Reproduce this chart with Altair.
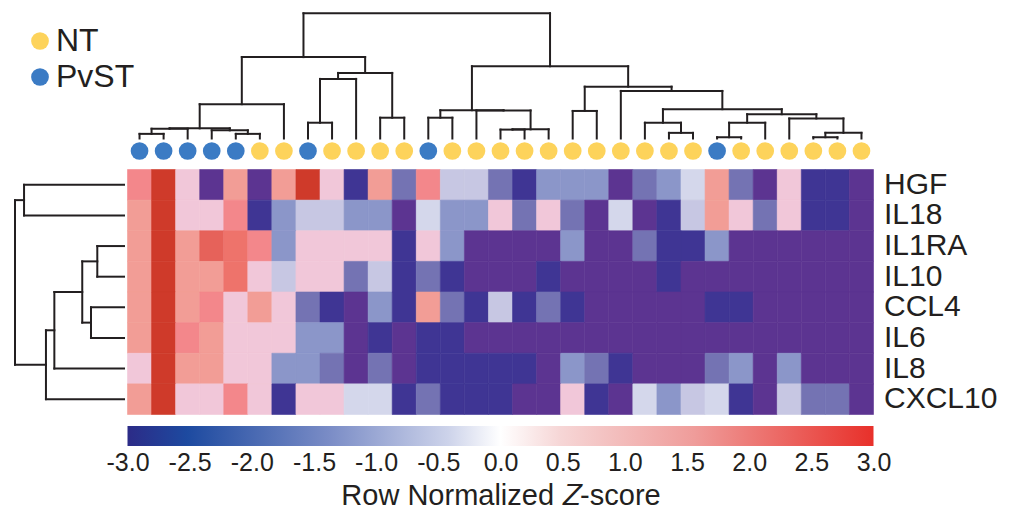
import altair as alt
import pandas as pd

FONT = "Liberation Sans"
INK = "#231f20"

# ---------------- data ----------------
genes = ["HGF", "IL18", "IL1RA", "IL10", "CCL4", "IL6", "IL8", "CXCL10"]
groups = ["NT", "PvST"]
group_colors = ["#fdd35b", "#3b7bc4"]
sample_group = (["PvST"] * 5 + ["NT", "NT", "PvST", "NT", "NT", "NT", "NT", "PvST"]
                + ["NT"] * 11 + ["PvST"] + ["NT"] * 6)

z_HGF = [1.6, 3.0, 0.4, -3.3, 1.2, -3.3, 1.2, 3.0, 0.4, -2.7, 1.2, -2.0, 1.6, -0.9, -0.9,
         -2.0, -2.7, -1.5, -1.5, -1.5, -3.3, -2.0, -1.5, -0.6, 1.2, -2.0, -3.3, 0.4, -2.7, -2.7, -3.3]
z_IL18 = [1.2, 3.0, 0.4, 0.4, 1.6, -2.7, -1.5, -0.9, -0.9, -1.5, -1.5, -3.3, -0.6, -1.5, -1.5,
          0.4, -2.0, 0.4, -2.0, -3.3, -0.6, -3.3, -2.7, -0.9, 1.2, 0.4, -2.0, 0.4, -2.7, -2.7, -3.3]
z_IL1RA = [1.2, 3.0, 1.2, 2.3, 2.0, 1.6, -1.5, 0.4, 0.4, 0.4, 0.4, -2.7, 0.4, -1.5, -3.3,
           -3.3, -3.3, -3.3, -1.5, -3.3, -3.3, -2.0, -2.7, -2.7, -1.5, -3.3, -3.3, -3.3, -3.3, -3.3, -3.3]
z_IL10 = [1.2, 3.0, 1.2, 1.2, 2.0, 0.4, -0.9, 0.4, 0.4, -2.0, -0.9, -2.7, -2.0, -2.7, -3.3,
          -3.3, -3.3, -2.7, -3.3, -3.3, -3.3, -3.3, -2.7, -3.3, -3.3, -3.3, -3.3, -3.3, -3.3, -3.3, -3.3]
z_CCL4 = [1.2, 3.0, 1.2, 1.6, 0.4, 1.2, 0.4, -2.0, -2.7, -3.3, -1.5, -2.7, 1.2, -2.0, -2.7,
          -0.9, -2.7, -2.0, -2.7, -3.3, -3.3, -3.3, -3.3, -3.3, -2.7, -2.7, -3.3, -3.3, -3.3, -3.3, -3.3]
z_IL6 = [1.2, 3.0, 1.6, 1.2, 0.4, 0.4, 0.4, -1.5, -1.5, -3.3, -2.7, -3.3, -2.7, -2.7, -3.3,
         -3.3, -3.3, -3.3, -3.3, -3.3, -3.3, -3.3, -3.3, -3.3, -3.3, -3.3, -3.3, -3.3, -3.3, -3.3, -3.3]
z_IL8 = [0.4, 3.0, 1.2, 1.2, 0.4, 0.4, -1.5, -1.5, -2.0, -3.3, -2.0, -3.3, -2.7, -2.7, -2.7,
         -2.7, -2.7, -3.3, -1.5, -2.0, -2.7, -3.3, -3.3, -3.3, -2.0, -1.5, -3.3, -1.5, -3.3, -3.3, -3.3]
z_CXCL10 = [1.2, 3.0, 0.4, 0.4, 1.6, 0.4, -2.7, 0.4, 0.4, -0.6, -0.6, -2.7, -2.0, -2.7, -2.7,
            -2.7, -3.3, -3.3, 0.4, -2.7, -3.3, -0.6, -1.5, -0.9, -0.6, -2.7, -3.3, -0.9, -2.0, -2.0, -3.3]
z_rows = [z_HGF, z_IL18, z_IL1RA, z_IL10, z_CCL4, z_IL6, z_IL8, z_CXCL10]

# heatmap colour levels (value -> colour as printed)
level_values = [-3.3, -2.7, -2.0, -1.5, -0.9, -0.6, 0.4, 1.2, 1.6, 2.0, 2.3, 3.0]
level_colors = ["#5c3491", "#3f3594", "#7473b3", "#8b96c9", "#c7c7e3", "#d4d7eb",
                "#f1c7d9", "#f29d96", "#f3878b", "#ee736b", "#e6625a", "#cf3a2a"]

colorbar_ticks = [-3.0, -2.5, -2.0, -1.5, -1.0, -0.5, 0.0, 0.5, 1.0, 1.5, 2.0, 2.5, 3.0]

# column dendrogram merges (leaf cN = column N)
top_a = ["c1", "c5", "c4", "n1", "n4", "n5", "c8", "n7", "c11", "n8", "n6", "c13", "c16", "n13", "c15",
         "n12", "c19", "c23", "c22", "c25", "n20", "c29", "n22", "c28", "n21", "n19", "c21", "n17", "n16", "n11"]
top_b = ["c2", "c6", "n2", "c3", "n3", "c7", "c9", "c10", "c12", "n9", "n10", "c14", "c17", "c18", "n14",
         "n15", "c20", "c24", "n18", "c26", "c27", "c30", "c31", "n23", "n24", "n25", "n26", "n27", "n28", "n29"]
top_h = [0.37, 0.37, 0.65, 0.78, 0.81, 2.74, 1.26, 4.76, 1.66, 5.24, 6.5, 1.66, 0.71, 0.73, 2.24,
         2.26, 2.2, 0.45, 1.26, 0.1, 1.26, 0.1, 0.45, 1.6, 1.94, 2.34, 3.8, 4.14, 5.77, 10.0]

# gene dendrogram merges (leaf cN = gene row N)
row_a = ["c1", "c3", "c5", "n2", "n4", "n5", "n1"]
row_b = ["c2", "c4", "c6", "n3", "c7", "c8", "n6"]
row_h = [9.17, 2.45, 3.03, 3.83, 6.39, 7.16, 10.0]


def dendro_segments(left, right, height, n_leaves):
    pos = {f"c{i}": float(i) for i in range(1, n_leaves + 1)}
    hgt = {f"c{i}": 0.0 for i in range(1, n_leaves + 1)}
    rows = []
    for k, (a, b, h) in enumerate(zip(left, right, height), start=1):
        rows.append({"p": pos[a], "p2": pos[b], "h": h, "h2": h})
        rows.append({"p": pos[a], "p2": pos[a], "h": hgt[a], "h2": h})
        rows.append({"p": pos[b], "p2": pos[b], "h": hgt[b], "h2": h})
        pos[f"n{k}"] = (pos[a] + pos[b]) / 2
        hgt[f"n{k}"] = h
    return pd.DataFrame(rows)


n_cols = len(sample_group)
samples_df = pd.DataFrame({"col": list(range(1, n_cols + 1)), "group": sample_group})
heat_df = pd.DataFrame([
    {"gene": g, "col": c + 1, "z": v}
    for g, row in zip(genes, z_rows) for c, v in enumerate(row)
])
top_df = dendro_segments(top_a, top_b, top_h, n_cols)
row_df = dendro_segments(row_a, row_b, row_h, len(genes))
cbar_df = pd.DataFrame({"lo": [min(colorbar_ticks)], "hi": [max(colorbar_ticks)]})

# ---------------- layout (pixel ranges inside the plot area) ----------------
W, H = 865.5, 438
HX = [119.5, 865.5]        # heatmap / column span
HY = [161.5, 406.5]        # heatmap / row span
TOPY = [130.5, 5.3]        # column dendrogram: leaves -> root
DOTY = [130.5, 155.5]      # sample dot strip
ROWX = [116, 7]            # row dendrogram: leaves -> root
CBY = [418, 438]           # colour bar strip

col_scale = alt.Scale(domain=[0.5, n_cols + 0.5], range=HX, nice=False, zero=False)

top_dendro = alt.Chart(top_df).mark_rule(color=INK, strokeWidth=2, strokeCap="square").encode(
    x=alt.X("p:Q", scale=col_scale, axis=None),
    x2="p2:Q",
    y=alt.Y("h:Q", scale=alt.Scale(domain=[0, 10], range=TOPY, nice=False, zero=False), axis=None),
    y2="h2:Q",
)

dots = alt.Chart(samples_df).transform_calculate(track="'samples'").mark_circle(size=314, opacity=1).encode(
    x=alt.X("col:Q", scale=col_scale, axis=None),
    y=alt.Y("track:N", scale=alt.Scale(domain=["samples"], range=DOTY), axis=None),
    color=alt.Color(
        "group:N",
        scale=alt.Scale(domain=groups, range=group_colors),
        legend=alt.Legend(
            orient="none", legendX=10, legendY=17, title=None,
            labelFontSize=32, labelFont=FONT, labelColor=INK, labelOffset=0,
            symbolSize=314, symbolType="circle", symbolStrokeWidth=0, symbolOffset=6,
            rowPadding=4, padding=0,
        ),
    ),
)

row_dendro = alt.Chart(row_df).mark_rule(color=INK, strokeWidth=2, strokeCap="square").encode(
    y=alt.Y("p:Q", scale=alt.Scale(domain=[0.5, len(genes) + 0.5], range=HY, nice=False, zero=False),
            axis=None),
    y2="p2:Q",
    x=alt.X("h:Q", scale=alt.Scale(domain=[0, 10], range=ROWX, nice=False, zero=False), axis=None),
    x2="h2:Q",
)

heat_color = alt.Scale(domain=level_values, range=level_colors, interpolate="rgb")
heat = alt.Chart(heat_df).mark_rect(strokeWidth=0.6).encode(
    x=alt.X("col:O", scale=alt.Scale(range=HX, paddingInner=0, paddingOuter=0), axis=None),
    y=alt.Y("gene:N", sort=genes, scale=alt.Scale(range=HY, paddingInner=0, paddingOuter=0),
            axis=alt.Axis(orient="right", title=None, ticks=False, domain=False, grid=False,
                          labelFontSize=30, labelFont=FONT, labelColor=INK, labelPadding=10)),
    color=alt.Color("z:Q", scale=heat_color, legend=None),
    stroke=alt.Stroke("z:Q", scale=heat_color, legend=None),
)

gradient = alt.LinearGradient(
    gradient="linear", x1=0, x2=1, y1=0, y2=0,
    stops=[
        alt.GradientStop(color="#2c2b87", offset=0.0),
        alt.GradientStop(color="#1d4aa0", offset=0.08),
        alt.GradientStop(color="#7a8cc6", offset=0.27),
        alt.GradientStop(color="#cdd3ea", offset=0.43),
        alt.GradientStop(color="#ffffff", offset=0.5),
        alt.GradientStop(color="#f6d6d6", offset=0.58),
        alt.GradientStop(color="#ef9c9a", offset=0.76),
        alt.GradientStop(color="#e8302a", offset=1.0),
    ],
)

cbar = alt.Chart(cbar_df).transform_calculate(strip="'colorbar'").mark_rect(color=gradient).encode(
    x=alt.X("lo:Q", scale=alt.Scale(domain=[min(colorbar_ticks), max(colorbar_ticks)], range=HX,
                                    nice=False, zero=False),
            axis=alt.Axis(values=colorbar_ticks, ticks=False, domain=False, grid=False,
                          labelExpr="replace(format(datum.value, '.1f'), '\u2212', '-')",
                          labelFontSize=25, labelFont=FONT, labelColor=INK, labelPadding=4,
                          labelFlush=False, labelOverlap=False,
                          title="Row Normalized \U0001D44D-score", titleFont=FONT, titleFontSize=29,
                          titleFontWeight="normal", titleColor=INK, titlePadding=6,
                          titleX=(HX[0] + HX[1]) / 2, titleAnchor="middle")),
    x2="hi:Q",
    y=alt.Y("strip:N", scale=alt.Scale(domain=["colorbar"], range=CBY, paddingInner=0, paddingOuter=0),
            axis=None),
)

chart = alt.layer(top_dendro, dots, row_dendro, heat, cbar).resolve_scale(
    x="independent", y="independent", color="independent", stroke="independent"
).resolve_axis(x="independent", y="independent").resolve_legend(color="independent").properties(
    width=W, height=H, padding=0
).configure(font=FONT).configure_view(strokeWidth=0, stroke="transparent")

chart.save("out.html", embed_options={"renderer": "svg", "actions": False})
